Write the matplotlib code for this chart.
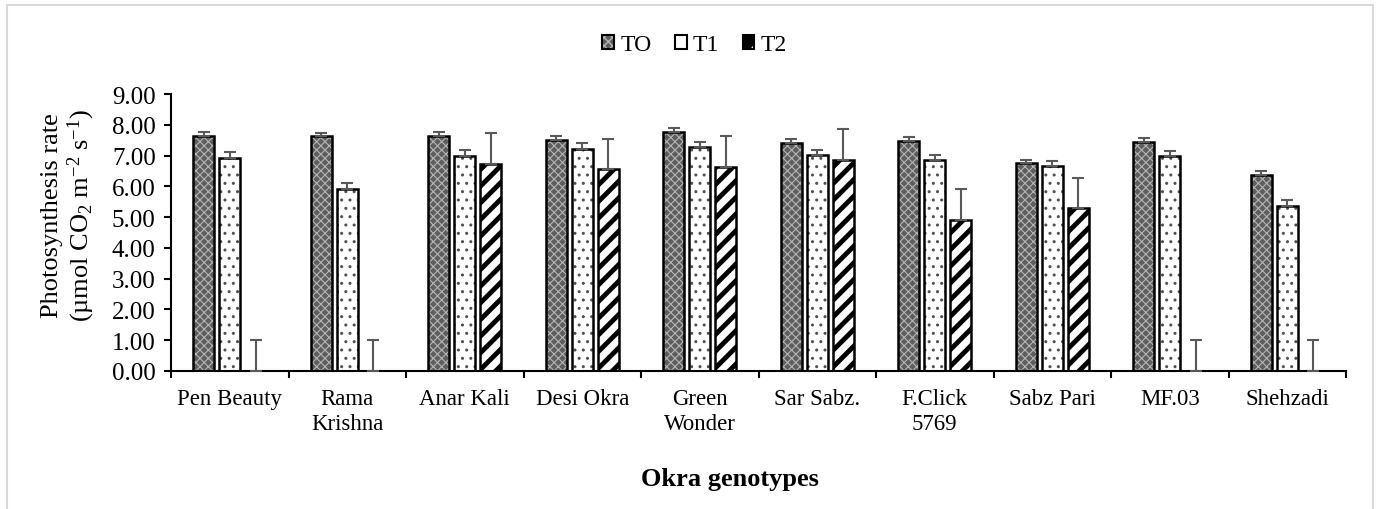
import matplotlib
matplotlib.use('Agg')
import matplotlib.pyplot as plt
import numpy as np
from matplotlib.patches import Rectangle

plt.rcParams['font.family'] = ['Liberation Serif', 'DejaVu Serif']
plt.rcParams['mathtext.fontset'] = 'custom'
plt.rcParams['mathtext.rm'] = 'Liberation Serif'
plt.rcParams['mathtext.it'] = 'Liberation Serif:italic'

genotypes = ['Pen Beauty', 'Rama\nKrishna', 'Anar Kali', 'Desi Okra', 'Green\nWonder',
             'Sar Sabz.', 'F.Click\n5769', 'Sabz Pari', 'MF.03', 'Shehzadi']
series = ['TO', 'T1', 'T2']
t0 = [7.65, 7.62, 7.65, 7.52, 7.78, 7.42, 7.47, 6.75, 7.45, 6.37]
t1 = [6.93, 5.92, 7.00, 7.22, 7.27, 7.02, 6.85, 6.65, 6.97, 5.37]
t2 = [0.00, 0.00, 6.72, 6.55, 6.63, 6.85, 4.92, 5.28, 0.00, 0.00]
t0_err = [0.13, 0.12, 0.13, 0.12, 0.12, 0.12, 0.12, 0.12, 0.12, 0.13]
t1_err = [0.18, 0.18, 0.18, 0.18, 0.17, 0.17, 0.18, 0.18, 0.18, 0.18]
t2_err = [1.0, 1.0, 1.0, 1.0, 1.0, 1.0, 1.0, 1.0, 1.0, 1.0]

fig = plt.figure(figsize=(13.78, 5.10), dpi=100)
ax = fig.add_axes([0.1241, 0.2706, 0.8527, 0.5431])

x = np.arange(len(genotypes))
w = 0.179
off = 0.221
styles = [
    dict(face='#5e5e5e', hatch='xxxx', hcolor='#b5b5b5', hlw=0.8),
    dict(face='white', hatch='..', hcolor='#505050', hlw=1.0),
    dict(face='white', hatch='//', hcolor='black', hlw=3.5),
]
legend_styles = [
    dict(face='#5e5e5e', hatch='xxxx', hcolor='#b5b5b5', hlw=0.8),
    dict(face='white', hatch='.', hcolor='black', hlw=1.5),
    dict(face='black', hatch='/', hcolor='white', hlw=1.5),
]
vals = [t0, t1, t2]
errs = [t0_err, t1_err, t2_err]
for i, (v, e, st) in enumerate(zip(vals, errs, styles)):
    pos = x + (i - 1) * off
    with plt.rc_context({'hatch.linewidth': st['hlw']}):
        bars = ax.bar(pos, v, w, color=st['face'], hatch=st['hatch'], edgecolor=st['hcolor'],
                      linewidth=0, zorder=2)
        for b in bars:
            if hasattr(b, 'set_hatch_linewidth'):
                b.set_hatch_linewidth(st['hlw'])
    ax.bar(pos, v, w, fill=False, edgecolor='black', linewidth=1.8, zorder=3)
    ax.errorbar(pos, v, yerr=[np.zeros(len(v)), e], fmt='none', ecolor='#595959',
                elinewidth=1.5, capsize=4.3, capthick=1.5, zorder=4)

handles = []
for st in legend_styles:
    h = Rectangle((0, 0), 1, 1, facecolor=st['face'], hatch=st['hatch'],
                  edgecolor='black', linewidth=1.5)
    h._hatch_color = matplotlib.colors.to_rgba(st['hcolor'])
    if hasattr(h, 'set_hatch_linewidth'):
        h.set_hatch_linewidth(st['hlw'])
    handles.append(h)

ax.set_xlim(-0.5, len(genotypes) - 0.5)
ax.set_ylim(0, 9)
yt = np.arange(0, 9.01, 1)
ax.set_yticks(yt)
ax.set_yticklabels([f'{t:.2f}' for t in yt], fontsize=18)
ax.set_xticks(x)
ax.set_xticklabels(genotypes, fontsize=16.5, linespacing=1.25)
ax.set_xticks(np.arange(-0.5, len(genotypes)), minor=True)
ax.tick_params(axis='x', which='major', length=0, pad=12)
ax.tick_params(axis='x', which='minor', length=5, width=1.5, color='black')
ax.tick_params(axis='y', length=5, width=1.5, direction='out', pad=6)
for s in ['top', 'right']:
    ax.spines[s].set_visible(False)
for s in ['left', 'bottom']:
    ax.spines[s].set_linewidth(1.5)

ax.set_ylabel('Photosynthesis rate\n(µmol CO$_2$ m$^{-2}$ s$^{-1}$)', fontsize=19,
              linespacing=1.1)
ax.yaxis.set_label_coords(-0.063, 0.563)
ax.set_xlabel('Okra genotypes', fontsize=19, fontweight='bold', va='top')
ax.xaxis.set_label_coords(0.4755, -0.347)

fig.legend(handles, series, loc='center', bbox_to_anchor=(0.504, 0.91), ncol=3, frameon=False,
           fontsize=17, handlelength=0.5, handleheight=0.5, handletextpad=0.25,
           columnspacing=1.0)

fig.patches.append(Rectangle((7 / 1378, -0.01), 1366 / 1378, 1 - 6 / 510 + 0.01,
                             transform=fig.transFigure, fill=False,
                             edgecolor='#d9d9d9', linewidth=1.5))

fig.savefig('out.png', dpi=100)
